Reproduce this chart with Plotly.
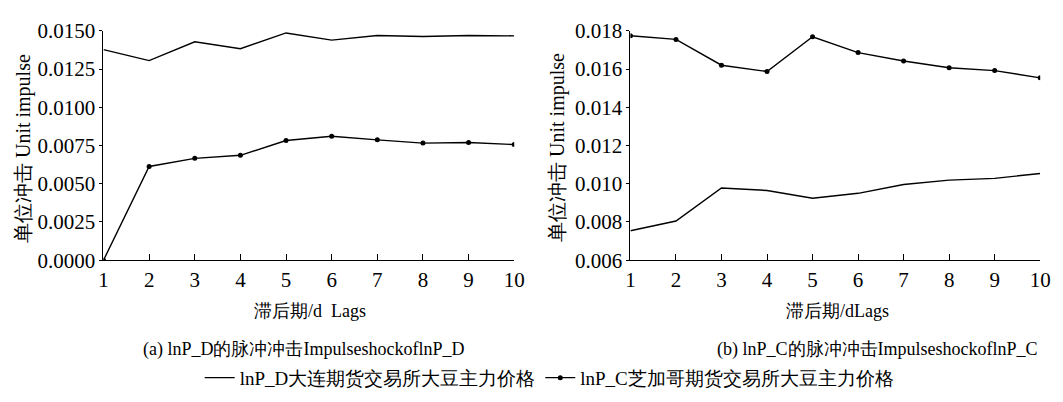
import plotly.graph_objects as go

lags = [1, 2, 3, 4, 5, 6, 7, 8, 9, 10]

# (a) shock of lnP_D
a_lnP_D = [0.01377, 0.01305, 0.01428, 0.01383, 0.01486, 0.01439, 0.01469, 0.01463, 0.01469, 0.01467]
a_lnP_C = [0.0, 0.00613, 0.00666, 0.00686, 0.00783, 0.00811, 0.00787, 0.00766, 0.00770, 0.00756]

# (b) shock of lnP_C
b_lnP_D = [0.00754, 0.00805, 0.00978, 0.00965, 0.00924, 0.00950, 0.00996, 0.01019, 0.01028, 0.01054]
b_lnP_C = [0.01774, 0.01755, 0.01620, 0.01587, 0.01769, 0.01686, 0.01642, 0.01607, 0.01592, 0.01554]

a_yticks = [0, 0.0025, 0.005, 0.0075, 0.01, 0.0125, 0.015]
b_yticks = [0.006, 0.008, 0.01, 0.012, 0.014, 0.016, 0.018]

name_D = "lnP_D大连期货交易所大豆主力价格"
name_C = "lnP_C芝加哥期货交易所大豆主力价格"

FONT = "Liberation Serif"
W, H = 1063, 402

fig = go.Figure()
line = dict(color="black", width=1.4)
fig.add_trace(go.Scatter(x=lags, y=a_lnP_D, mode="lines", line=line, name=name_D,
                         xaxis="x", yaxis="y", showlegend=True))
fig.add_trace(go.Scatter(x=lags, y=a_lnP_C, mode="lines+markers", line=line,
                         marker=dict(color="black", size=5), name=name_C,
                         xaxis="x", yaxis="y", showlegend=True))
fig.add_trace(go.Scatter(x=lags, y=b_lnP_D, mode="lines", line=line, name=name_D,
                         xaxis="x2", yaxis="y2", showlegend=False))
fig.add_trace(go.Scatter(x=lags, y=b_lnP_C, mode="lines+markers", line=line,
                         marker=dict(color="black", size=5), name=name_C,
                         xaxis="x2", yaxis="y2", showlegend=False))

ytop = 1 - 20 / H
ybot = 1 - 264 / H
xa = [100 / W, 517 / W]
xb = [635 / W, 1051 / W]

xcommon = dict(range=[1, 10], tickvals=lags, ticks="inside", ticklen=6, tickcolor="black",
               showline=True, linecolor="black", linewidth=1.2, showgrid=False, zeroline=False,
               tickfont=dict(family=FONT, size=21, color="black"), fixedrange=True)
ycommon = dict(ticks="outside", ticklen=3, tickcolor="black", showline=True, linecolor="black",
               linewidth=1.2, showgrid=False, zeroline=False,
               tickfont=dict(family=FONT, size=21, color="black"))

fig.update_layout(
    width=W, height=H,
    margin=dict(l=0, r=0, t=0, b=0),
    plot_bgcolor="white", paper_bgcolor="white",
    font=dict(family=FONT, color="black"),
    xaxis=dict(domain=xa, anchor="y", **xcommon),
    yaxis=dict(domain=[ybot, ytop], anchor="x", range=[0, 0.015],
               tickvals=a_yticks, tickformat=".4f", **ycommon),
    xaxis2=dict(domain=xb, anchor="y2", **xcommon),
    yaxis2=dict(domain=[ybot, ytop], anchor="x2", range=[0.006, 0.018],
                tickvals=b_yticks, tickformat=".3f", **ycommon),
    legend=dict(orientation="h", x=553 / W, xanchor="center", y=1 - 389 / H, yanchor="middle",
                font=dict(family=FONT, size=19, color="black"), itemwidth=30,
                bgcolor="rgba(0,0,0,0)"),
    showlegend=True,
)

def note(text, x, y, size, angle=0):
    return dict(text=text, x=x / W, y=1 - y / H, xref="paper", yref="paper",
                xanchor="center", yanchor="middle", textangle=angle,
                showarrow=False, font=dict(family=FONT, size=size, color="black"))

ann = [
    note("滞后期/d  Lags", 310, 318, 18),
    note("滞后期/dLags", 845, 318, 18),
    note("(a) lnP_D的脉冲冲击ImpulseshockoflnP_D", 303, 359, 18),
    note("(b) lnP_C的脉冲冲击ImpulseshockoflnP_C", 886, 359, 18),
    note("单位冲击 Unit impulse", 19, 145, 20, -90),
    note("单位冲击 Unit impulse", 561, 144, 20, -90),
]
fig.update_layout(annotations=ann)

fig.write_html("out.html")
